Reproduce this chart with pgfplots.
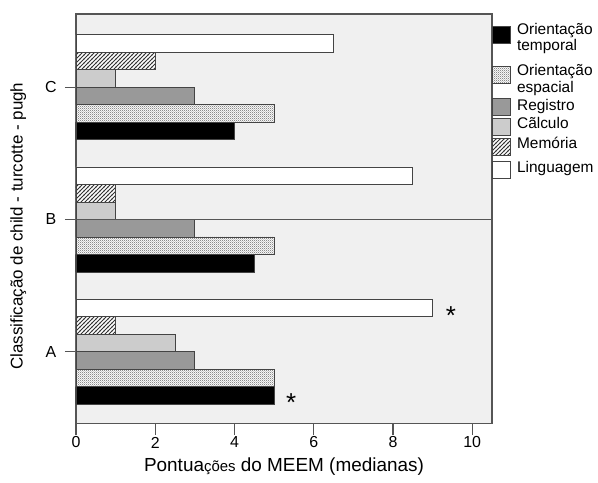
\documentclass[border=0pt]{standalone}
\usepackage{fontspec}
\setmainfont{Liberation Sans}
\usepackage{pgfplots}
\pgfplotsset{compat=1.18}
\usetikzlibrary{patterns}
\definecolor{framec}{HTML}{555555}
\definecolor{edgec}{HTML}{444444}
\definecolor{bgc}{HTML}{F0F0F0}
\definecolor{regc}{HTML}{999999}
\definecolor{calc}{HTML}{CCCCCC}
\pgfdeclarepatternformonly{finedots}{\pgfpointorigin}{\pgfpoint{2.2bp}{2.2bp}}{\pgfpoint{2.2bp}{2.2bp}}{%
  \pgfpathrectangle{\pgfpointorigin}{\pgfpoint{1.1bp}{1.1bp}}%
  \pgfpathrectangle{\pgfpoint{1.1bp}{1.1bp}}{\pgfpoint{1.1bp}{1.1bp}}%
  \pgfusepath{fill}}
\pgfdeclarepatternformonly{hatch}{\pgfpoint{-1bp}{-1bp}}{\pgfpoint{5bp}{5bp}}{\pgfpoint{4bp}{4bp}}{%
  \pgfsetlinewidth{0.9bp}%
  \pgfpathmoveto{\pgfpoint{-0.5bp}{-0.5bp}}\pgfpathlineto{\pgfpoint{4.5bp}{4.5bp}}%
  \pgfusepath{stroke}}
% zero-size legend text lines, raised by #1
\newcommand{\lt}[2]{\raisebox{#1}[0pt][0pt]{#2}}
\newcommand{\ltt}[4]{\rlap{\raisebox{#1}[0pt][0pt]{#2}}\raisebox{#3}[0pt][0pt]{#4}}
\pgfplotsset{lrow/.style 2 args={legend image code/.code={%
  \pgfpathmoveto{\pgfpoint{0bp}{-#2}}\pgfpathmoveto{\pgfpoint{18bp}{#1}}\pgfusepath{}%
  \draw[##1] (0bp,-8.5bp) rectangle (18bp,8.5bp);}}}
\begin{document}
\begin{tikzpicture}
\begin{axis}[
  scale only axis,
  width=416bp, height=409.5bp,
  xbar, bar width=17.5bp,
  xmin=0, xmax=10.5,
  ymin=-0.543, ymax=2.554,
  ytick={0,1,2}, yticklabels={A,B,C},
  xtick={0,2,4,6,8,10},
  xtick pos=bottom, ytick pos=left,
  tick align=outside,
  major tick length=11bp,
  every tick/.style={framec, line width=1.1bp},
  axis line style={framec, line width=1.1bp},
  axis background/.style={fill=bgc},
  /pgf/number format/assume math mode=true,
  xticklabel style={font=\fontsize{16}{16}\selectfont, anchor=center, yshift=-8bp},
  yticklabel style={font=\fontsize{16}{16}\selectfont, anchor=center, xshift=-14bp},
  xlabel={Pontua{\fontsize{15}{15}\selectfont ções} do MEEM (medianas)},
  xlabel style={font=\fontsize{19}{19}\selectfont, at={(axis description cs:0.5,0)}, anchor=center, yshift=-43bp},
  ylabel={Classificação de child - turcotte - pugh},
  ylabel style={font=\fontsize{17}{17}\selectfont, at={(axis description cs:-0.139,0.482)}, anchor=center},
  legend cell align=left,
  legend style={at={(1,1)}, anchor=north west, yshift=-12bp, draw=none, fill=none,
    font=\fontsize{15.5}{17}\selectfont, inner xsep=0pt, inner ysep=0pt, row sep=0pt, column sep=6bp,
    nodes={inner sep=0pt}},
  every axis plot/.append style={draw=edgec, line width=0.9bp},
]
\addplot[fill=black, bar shift=-43.75bp, lrow={9bp}{20bp}] coordinates {(5,0) (4.5,1) (4,2)};
\addlegendentry{\ltt{0bp}{Orientação}{-16.5bp}{temporal}}
\addplot[fill=white, postaction={pattern=finedots, pattern color=black!45}, bar shift=-26.25bp, lrow={20bp}{15.75bp}] coordinates {(5,0) (5,1) (5,2)};
\addlegendentry{\ltt{-1bp}{Orientação}{-18bp}{espacial}}
\addplot[fill=regc, bar shift=-8.75bp, lrow={15.75bp}{10bp}] coordinates {(3,0) (3,1) (3,2)};
\addlegendentry{\lt{-4.5bp}{Registro}}
\addplot[fill=calc, bar shift=8.75bp, lrow={10bp}{10bp}] coordinates {(2.5,0) (1,1) (1,2)};
\addlegendentry{\lt{-3bp}{Cãlculo}}
\addplot[fill=white, postaction={pattern=hatch, pattern color=black!80}, bar shift=26.25bp, lrow={10bp}{11.75bp}] coordinates {(1,0) (1,1) (2,2)};
\addlegendentry{\lt{-2.5bp}{Memória}}
\addplot[fill=white, bar shift=43.75bp, lrow={11.75bp}{9bp}] coordinates {(9,0) (8.5,1) (6.5,2)};
\addlegendentry{\lt{-3bp}{Linguagem}}
\draw[framec, line width=1.1bp] (axis cs:0,1) -- (axis cs:10.5,1);
\node[anchor=base, font=\fontsize{26}{26}\selectfont, inner sep=0pt] at (axis cs:9.46,0.205) {*};
\node[anchor=base, font=\fontsize{26}{26}\selectfont, inner sep=0pt] at (axis cs:5.43,-0.455) {*};
\end{axis}
\pgfresetboundingbox
\path ([shift={(-76bp,-59.5bp)}]current axis.south west) rectangle ([shift={(106bp,14bp)}]current axis.north east);
\end{tikzpicture}
\end{document}
